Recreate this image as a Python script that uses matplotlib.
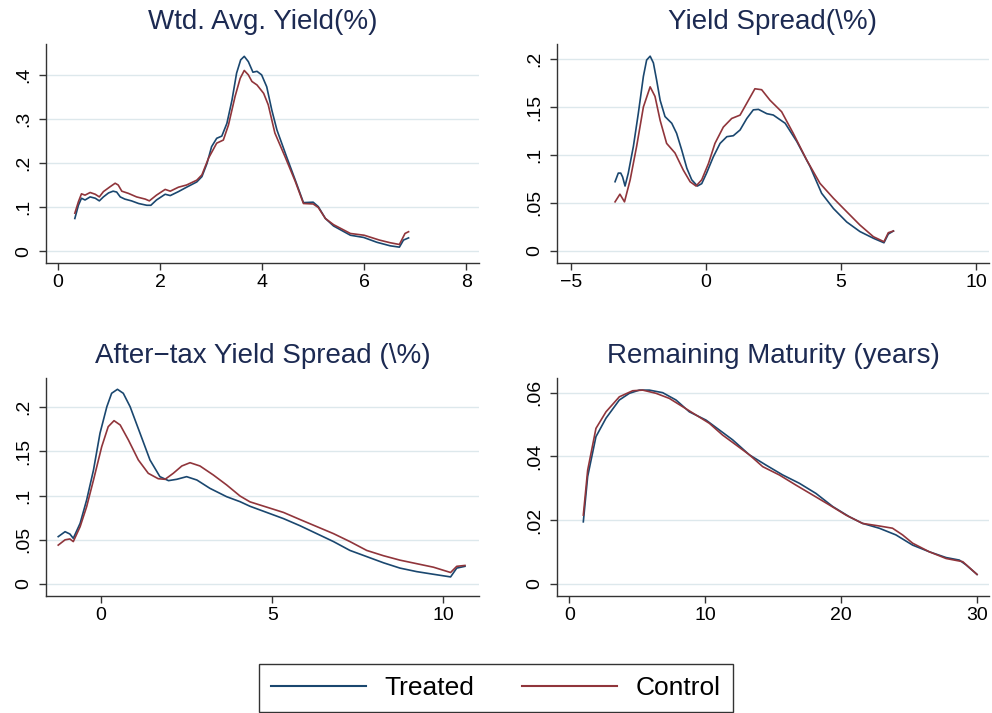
import matplotlib
matplotlib.use("Agg")
import matplotlib.pyplot as plt
from matplotlib.lines import Line2D

plt.rcParams["font.family"] = ["Liberation Sans", "DejaVu Sans"]

blue = "#1a476f"
red = "#90353b"
navy = "#1c2a52"
grid = "#dde8ec"

# Wtd. Avg. Yield(%)
wy_tx = [0.33, 0.4, 0.46, 0.53, 0.63, 0.73, 0.81, 0.89, 0.99, 1.08, 1.15, 1.22, 1.31, 1.44,
         1.58, 1.74, 1.82, 1.93, 2.1, 2.2, 2.36, 2.52, 2.72, 2.82, 2.92, 3.01, 3.11, 3.21,
         3.31, 3.41, 3.5, 3.58, 3.65, 3.73, 3.82, 3.9, 3.99, 4.09, 4.19, 4.29, 4.48, 4.65,
         4.81, 5.0, 5.1, 5.24, 5.4, 5.73, 5.99, 6.25, 6.51, 6.69, 6.77, 6.87]
wy_ty = [0.074, 0.104, 0.12, 0.116, 0.123, 0.12, 0.114, 0.123, 0.132, 0.136, 0.134, 0.123,
         0.118, 0.114, 0.108, 0.104, 0.104, 0.116, 0.129, 0.126, 0.135, 0.145, 0.157, 0.169,
         0.199, 0.237, 0.256, 0.261, 0.29, 0.343, 0.404, 0.434, 0.442, 0.43, 0.406, 0.408,
         0.4, 0.373, 0.32, 0.275, 0.214, 0.161, 0.11, 0.111, 0.101, 0.074, 0.057, 0.036,
         0.031, 0.02, 0.012, 0.009, 0.025, 0.03]
wy_cx = [0.33, 0.4, 0.46, 0.53, 0.63, 0.73, 0.81, 0.89, 1.02, 1.12, 1.18, 1.25, 1.38, 1.54,
         1.71, 1.79, 1.93, 2.1, 2.2, 2.36, 2.52, 2.72, 2.82, 2.95, 3.11, 3.24, 3.34, 3.47,
         3.57, 3.65, 3.73, 3.8, 3.9, 4.03, 4.12, 4.25, 4.45, 4.65, 4.81, 5.0, 5.1, 5.24,
         5.4, 5.73, 6.0, 6.3, 6.51, 6.69, 6.8, 6.87]
wy_cy = [0.086, 0.112, 0.13, 0.127, 0.133, 0.129, 0.123, 0.135, 0.146, 0.154, 0.15, 0.136,
         0.131, 0.123, 0.118, 0.114, 0.127, 0.14, 0.136, 0.145, 0.15, 0.161, 0.173, 0.211,
         0.245, 0.252, 0.286, 0.351, 0.392, 0.41, 0.4, 0.385, 0.377, 0.358, 0.332, 0.268,
         0.214, 0.158, 0.108, 0.107, 0.099, 0.074, 0.06, 0.04, 0.036, 0.025, 0.019, 0.015,
         0.04, 0.044]

# Yield Spread(\%)
ys_tx = [-3.37, -3.25, -3.16, -3.09, -3.0, -2.88, -2.69, -2.51, -2.32, -2.2, -2.07, -1.95,
         -1.83, -1.7, -1.52, -1.27, -1.09, -0.9, -0.71, -0.53, -0.32, -0.16, 0.02, 0.27,
         0.52, 0.77, 1.01, 1.26, 1.51, 1.75, 1.94, 2.25, 2.49, 2.93, 3.36, 3.85, 4.28, 4.72,
         5.21, 5.7, 6.2, 6.59, 6.75, 6.94]
ys_ty = [0.072, 0.081, 0.081, 0.077, 0.0675, 0.081, 0.109, 0.143, 0.182, 0.199, 0.203,
         0.196, 0.178, 0.157, 0.14, 0.133, 0.1225, 0.105, 0.086, 0.074, 0.0675, 0.07, 0.081,
         0.098, 0.112, 0.119, 0.12, 0.126, 0.138, 0.147, 0.1475, 0.143, 0.1416, 0.133, 0.114,
         0.088, 0.06, 0.044, 0.03, 0.02, 0.013, 0.0083, 0.0174, 0.0206]
ys_cx = [-3.37, -3.19, -3.02, -2.81, -2.57, -2.32, -2.07, -1.89, -1.7, -1.46, -1.15, -0.84,
         -0.59, -0.37, -0.16, 0.09, 0.33, 0.64, 0.95, 1.26, 1.51, 1.81, 2.06, 2.37, 2.8, 3.23,
         3.73, 4.22, 4.72, 5.21, 5.7, 6.2, 6.59, 6.75, 6.94]
ys_cy = [0.051, 0.059, 0.051, 0.074, 0.109, 0.15, 0.171, 0.161, 0.136, 0.112, 0.102, 0.084,
         0.072, 0.0675, 0.074, 0.091, 0.112, 0.129, 0.138, 0.1415, 0.154, 0.169, 0.168,
         0.157, 0.145, 0.1225, 0.0946, 0.0703, 0.0547, 0.0407, 0.0268, 0.0146, 0.0094,
         0.0188, 0.0206]

# After-tax Yield Spread (\%)
at_tx = [-1.25, -1.05, -0.91, -0.81, -0.61, -0.42, -0.22, -0.03, 0.17, 0.31, 0.48, 0.65,
         0.85, 1.14, 1.43, 1.72, 1.97, 2.21, 2.5, 2.8, 3.18, 3.67, 4.06, 4.35, 4.84, 5.33,
         5.81, 6.3, 6.79, 7.27, 7.76, 8.25, 8.73, 9.22, 9.71, 10.21, 10.39, 10.63]
at_ty = [0.0536, 0.0592, 0.0566, 0.0517, 0.0687, 0.0951, 0.129, 0.1706, 0.2007, 0.2159,
         0.2204, 0.2159, 0.2007, 0.1706, 0.1404, 0.1215, 0.117, 0.1185, 0.1215, 0.1177,
         0.1083, 0.0988, 0.0932, 0.088, 0.081, 0.074, 0.066, 0.057, 0.048, 0.038, 0.031,
         0.024, 0.018, 0.014, 0.011, 0.008, 0.018, 0.02]
at_cx = [-1.25, -1.05, -0.91, -0.81, -0.61, -0.42, -0.22, 0.02, 0.21, 0.38, 0.56, 0.8, 1.09,
         1.38, 1.67, 1.87, 2.11, 2.36, 2.6, 2.89, 3.28, 3.67, 4.06, 4.35, 4.84, 5.33, 5.81,
         6.3, 6.79, 7.27, 7.76, 8.25, 8.73, 9.22, 9.71, 10.21, 10.39, 10.63]
at_cy = [0.044, 0.05, 0.051, 0.048, 0.0649, 0.0875, 0.1177, 0.1554, 0.1781, 0.1849, 0.18,
         0.163, 0.1404, 0.1253, 0.1192, 0.1185, 0.1253, 0.1336, 0.1373, 0.1336, 0.1234,
         0.1121, 0.0996, 0.093, 0.087, 0.081, 0.073, 0.065, 0.057, 0.048, 0.038, 0.032,
         0.027, 0.023, 0.019, 0.013, 0.02, 0.021]

# Remaining Maturity (years)
rm_tx = [1.03, 1.35, 1.96, 2.7, 3.68, 4.42, 5.15, 5.89, 6.87, 7.85, 8.83, 10.06, 11.04, 12.02,
         13.25, 14.47, 15.7, 16.92, 18.15, 19.38, 20.6, 21.58, 22.8, 24.03, 25.26, 26.49,
         27.72, 28.7, 29.19, 30.0]
rm_ty = [0.0195, 0.0337, 0.0462, 0.052, 0.0577, 0.0598, 0.0608, 0.0608, 0.06, 0.0577, 0.054,
         0.0514, 0.0483, 0.0452, 0.0405, 0.0373, 0.0342, 0.0316, 0.0284, 0.0243, 0.0211,
         0.019, 0.0175, 0.0154, 0.0122, 0.0101, 0.0083, 0.0075, 0.006, 0.003]
rm_cx = [1.03, 1.35, 1.96, 2.7, 3.68, 4.66, 5.4, 6.38, 7.36, 8.34, 9.32, 10.3, 11.28, 12.27,
         13.25, 14.23, 15.45, 16.68, 17.91, 19.13, 20.36, 21.58, 22.8, 23.78, 24.52, 25.26,
         26.49, 27.72, 28.95, 30.0]
rm_cy = [0.0216, 0.0357, 0.0488, 0.054, 0.0587, 0.0606, 0.0608, 0.0598, 0.0582, 0.0556,
         0.053, 0.0504, 0.0467, 0.0436, 0.0405, 0.0368, 0.0342, 0.031, 0.0279, 0.0248, 0.0216,
         0.019, 0.0182, 0.0175, 0.0154, 0.0128, 0.0101, 0.008, 0.007, 0.003]

W, H = 992, 713
fig = plt.figure(figsize=(W / 100, H / 100), dpi=100)


def panel(box, title, tx, ty, cx, cy, xlim, ylim, xticks, xlabels, yticks, ylabels):
    l, r, t, b = box
    ax = fig.add_axes([l / W, 1 - b / H, (r - l) / W, (b - t) / H])
    ax.plot(tx, ty, color=blue, lw=1.2, zorder=3)
    ax.plot(cx, cy, color=red, lw=1.2, zorder=3)
    ax.set_xlim(*xlim)
    ax.set_ylim(*ylim)
    ax.set_xticks(xticks)
    ax.set_xticklabels(xlabels)
    ax.set_yticks(yticks)
    ax.set_yticklabels(ylabels, rotation=90, va="center")
    for v in yticks:
        ax.axhline(v, color=grid, lw=1.0, zorder=1)
    for s in ["top", "right"]:
        ax.spines[s].set_visible(False)
    for s in ["left", "bottom"]:
        ax.spines[s].set_color("#333333")
        ax.spines[s].set_linewidth(1.0)
    ax.tick_params(direction="out", length=5, width=1.0, color="#333333",
                   labelsize=14, labelcolor="black")
    ax.tick_params(axis="x", pad=3)
    ax.tick_params(axis="y", pad=5)
    fig.text((l + r) / 2 / W, 1 - (t - 22) / H, title, ha="center", va="center",
             fontsize=20, color=navy)
    return ax


panel((46, 479, 44, 263), "Wtd. Avg. Yield(%)", wy_tx, wy_ty, wy_cx, wy_cy,
      (-0.235, 8.25), (-0.027, 0.47), [0, 2, 4, 6, 8], ["0", "2", "4", "6", "8"],
      [0, 0.1, 0.2, 0.3, 0.4], ["0", ".1", ".2", ".3", ".4"])
panel((557, 989, 44, 263), "Yield Spread(\\%)", ys_tx, ys_ty, ys_cx, ys_cy,
      (-5.52, 10.48), (-0.0128, 0.2157), [-5, 0, 5, 10], ["\u22125", "0", "5", "10"],
      [0, 0.05, 0.1, 0.15, 0.2], ["0", ".05", ".1", ".15", ".2"])
panel((46, 479, 378, 596), "After\u2212tax Yield Spread (\\%)", at_tx, at_ty, at_cx, at_cy,
      (-1.607, 11.04), (-0.0136, 0.2332), [0, 5, 10], ["0", "5", "10"],
      [0, 0.05, 0.1, 0.15, 0.2], ["0", ".05", ".1", ".15", ".2"])
panel((557, 989, 378, 596), "Remaining Maturity (years)", rm_tx, rm_ty, rm_cx, rm_cy,
      (-0.906, 30.88), (-0.00376, 0.0646), [0, 10, 20, 30], ["0", "10", "20", "30"],
      [0, 0.02, 0.04, 0.06], ["0", ".02", ".04", ".06"])

handles = [Line2D([], [], color=blue, lw=1.5), Line2D([], [], color=red, lw=1.5)]
leg = fig.legend(handles, ["Treated", "Control"], loc="center",
                 bbox_to_anchor=(0.5, 1 - 688 / H), ncol=2, fontsize=19,
                 handlelength=3.6, handletextpad=0.7, columnspacing=1.8,
                 borderpad=0.45, borderaxespad=0, fancybox=False, frameon=True)
leg.get_frame().set_edgecolor("black")
leg.get_frame().set_linewidth(1.0)

fig.savefig("out.png", dpi=100)
